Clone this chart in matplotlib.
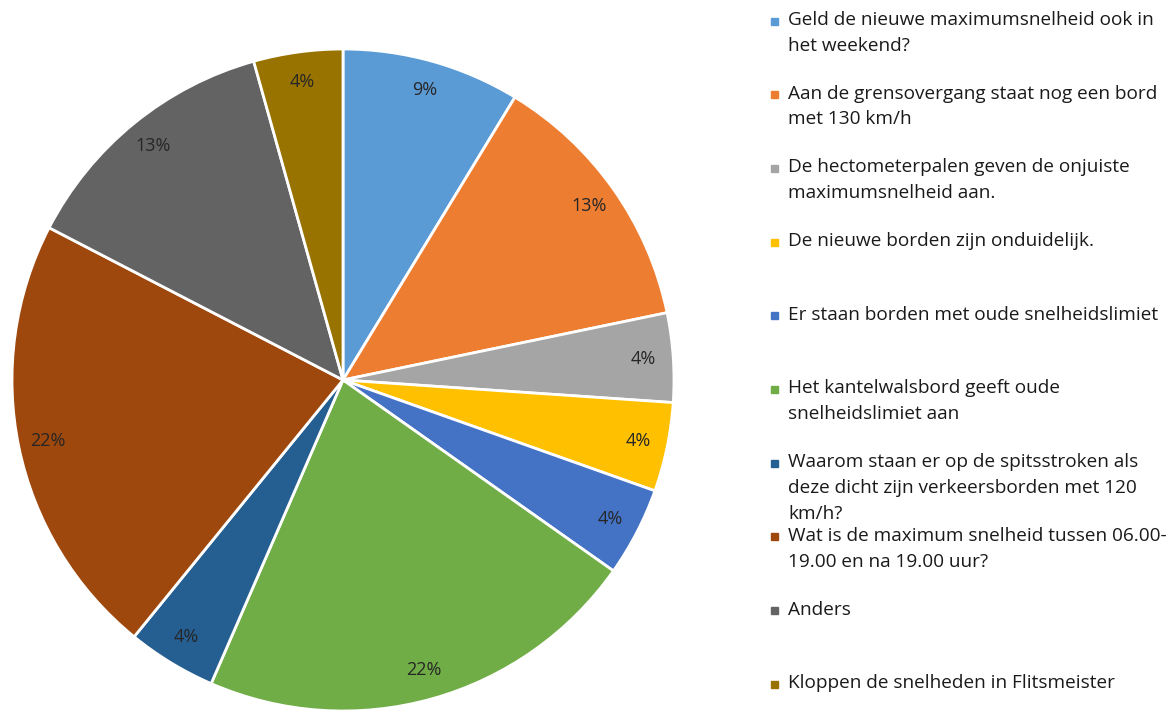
import matplotlib.pyplot as plt

# answers to the survey question (counts per option)
labels = [
    "Geld de nieuwe maximumsnelheid ook in\nhet weekend?",
    "Aan de grensovergang staat nog een bord\nmet 130 km/h",
    "De hectometerpalen geven de onjuiste\nmaximumsnelheid aan.",
    "De nieuwe borden zijn onduidelijk.",
    "Er staan borden met oude snelheidslimiet",
    "Het kantelwalsbord geeft oude\nsnelheidslimiet aan",
    "Waarom staan er op de spitsstroken als\ndeze dicht zijn verkeersborden met 120\nkm/h?",
    "Wat is de maximum snelheid tussen 06.00-\n19.00 en na 19.00 uur?",
    "Anders",
    "Kloppen de snelheden in Flitsmeister",
]
counts = [2, 3, 1, 1, 1, 5, 1, 5, 3, 1]
colors = ["#5B9BD5", "#ED7D31", "#A5A5A5", "#FFC000", "#4472C4",
          "#70AD47", "#255E91", "#9E480E", "#636363", "#997300"]

plt.rcParams['font.family'] = ['Open Sans', 'DejaVu Sans']

W, H = 1171, 710
fig = plt.figure(figsize=(W / 100, H / 100), dpi=100)

# pie: centre (343, 380) px from top, radius 331 px
cx, cy, r = 343, 380, 331
ax = fig.add_axes([(cx - r) / W, (H - cy - r) / H, 2 * r / W, 2 * r / H])
wedges, texts, autotexts = ax.pie(
    counts, colors=colors, startangle=90, counterclock=False,
    autopct=lambda p: f"{p:.0f}%", pctdistance=0.91,
    wedgeprops=dict(edgecolor="white", linewidth=2),
    textprops=dict(fontsize=13, color="#262626"))
ax.set_xlim(-1, 1)
ax.set_ylim(-1, 1)
ax.set_aspect("equal")
ax.axis("off")

# legend drawn by hand: equal height per entry, like Excel
y0, step = 21, 73.7
for i, (lab, col) in enumerate(zip(labels, colors)):
    ypx = y0 + i * step
    fig.patches.append(plt.Rectangle((771 / W, 1 - (ypx + 3.5) / H), 7 / W, 7 / H,
                                     transform=fig.transFigure, color=col))
    fig.text(788 / W, 1 - (ypx - 10) / H, lab, fontsize=13.7, color="#1a1a1a",
             va="top", ha="left", linespacing=1.55)

fig.savefig("out.png", dpi=100)
